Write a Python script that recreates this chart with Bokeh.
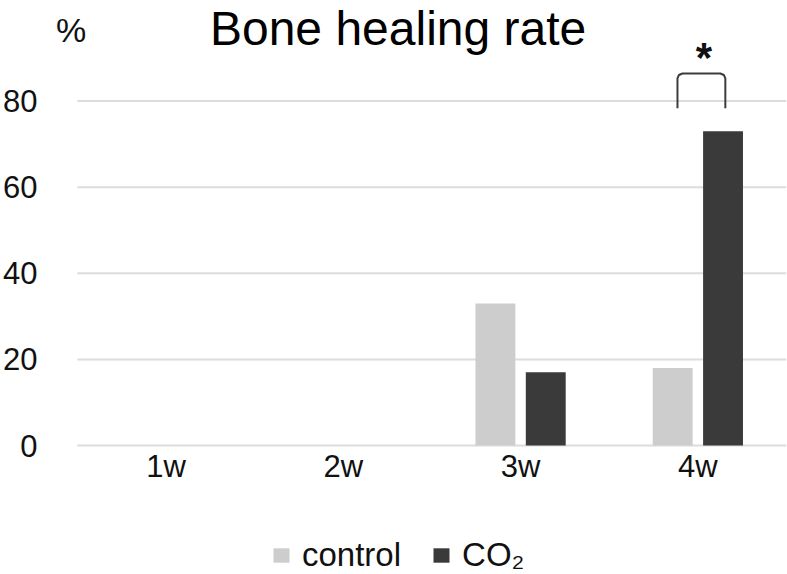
from bokeh.plotting import figure
from bokeh.models import (ColumnDataSource, Range1d, FixedTicker, Legend, LegendItem)
from bokeh.core.properties import value
from bokeh.embed import file_html
from bokeh.resources import INLINE

# ---- data ----
weeks = ["1w", "2w", "3w", "4w"]
control = [0, 0, 33, 18]
co2 = [0, 0, 17, 73]
y_ticks = [0, 20, 40, 60, 80]
title_text = "Bone healing rate"
unit_text = "%"
series_names = ["control", "CO\u2082"]

FONT = "Liberation Sans"
C_CTRL = "#cdcdcd"
C_CO2 = "#3a3a3a"

idx = list(range(len(weeks)))
centers = [i + 0.5 for i in idx]
bar_w = 0.225
off = 0.142

src = ColumnDataSource(dict(
    xc=[c - off for c in centers],
    xd=[c + off for c in centers],
    control=control,
    co2=co2,
))

W, H = 787, 574
zero_px = 445          # pixel row of value 0
px_per_unit = 4.306
px_per_cat = 178.0
y_end = zero_px / px_per_unit
y_start = -(H - zero_px) / px_per_unit
left_border = 46
x_start = -(74 - left_border) / px_per_cat

p = figure(width=W, height=H, output_backend="svg", toolbar_location=None,
           title=None, x_range=Range1d(x_start, len(weeks)), y_range=Range1d(y_start, y_end),
           min_border_left=left_border, min_border_right=1, min_border_top=0,
           min_border_bottom=0)
p.outline_line_color = None
p.background_fill_color = "white"
p.border_fill_color = "white"

# horizontal gridlines spanning the category area
p.segment(x0=[0] * len(y_ticks), x1=[len(weeks)] * len(y_ticks), y0=y_ticks, y1=y_ticks,
          line_color="#dcdcdc", line_width=2)

r1 = p.vbar(x="xc", top="control", bottom=0, width=bar_w, source=src,
            fill_color=C_CTRL, line_color=None)
r2 = p.vbar(x="xd", top="co2", bottom=0, width=bar_w, source=src,
            fill_color=C_CO2, line_color=None)

# axes
p.xaxis.ticker = FixedTicker(ticks=centers)
p.xaxis.major_label_overrides = {c: w for c, w in zip(centers, weeks)}
p.xaxis.fixed_location = 0
p.yaxis.ticker = FixedTicker(ticks=y_ticks)
for ax in (p.xaxis[0], p.yaxis[0]):
    ax.axis_line_color = None
    ax.major_tick_line_color = None
    ax.minor_tick_line_color = None
    ax.major_label_text_font = FONT
    ax.major_label_text_font_size = "31px"
    ax.major_label_text_color = "#111111"
p.xaxis.major_label_standoff = -3
p.yaxis.major_label_standoff = 6

p.xgrid.visible = False
p.ygrid.visible = False

# title (top-anchored just inside the top edge)
p.text(x=[1.809], y=[(zero_px - 1) / px_per_unit], text=[title_text],
       text_font=value(FONT), text_font_size="48px", text_align="center",
       text_baseline="top", text_color="#000000")

# unit label
p.text(x=[-0.036], y=[96.6], text=[unit_text], text_font=value(FONT),
       text_font_size="34px", text_align="center",
       text_baseline="alphabetic", text_color="#111111")

# significance bracket
gc = centers[3]
xl, xr = gc - 0.115, gc + 0.155
yb, yt = 78.3, 86.4
rx, ry = 0.028, 1.16
bx = [xl, xl, xl + rx * 0.3, xl + rx, xr - rx, xr - rx * 0.3, xr, xr]
by = [yb, yt - ry, yt - ry * 0.3, yt, yt, yt - ry * 0.3, yt - ry, yb]
p.line(x=bx, y=by, line_color="#3c3c3c", line_width=2, line_join="round")
p.text(x=[gc + 0.034], y=[90.0], text=["*"], text_font=value(FONT),
       text_font_size="42px", text_font_style="bold", text_align="center",
       text_baseline="alphabetic", text_color="#111111")

# legend
legend = Legend(items=[LegendItem(label=series_names[0], renderers=[r1]),
                       LegendItem(label=series_names[1], renderers=[r2])],
                orientation="horizontal", location=(222, 0),
                glyph_width=20, glyph_height=18, label_standoff=11, spacing=30,
                padding=0, margin=0, border_line_color=None,
                background_fill_alpha=0, label_text_font=FONT,
                label_text_font_size="33px", label_text_color="#111111")
p.add_layout(legend, "center")

open("out.html", "w").write(file_html(p, INLINE))
